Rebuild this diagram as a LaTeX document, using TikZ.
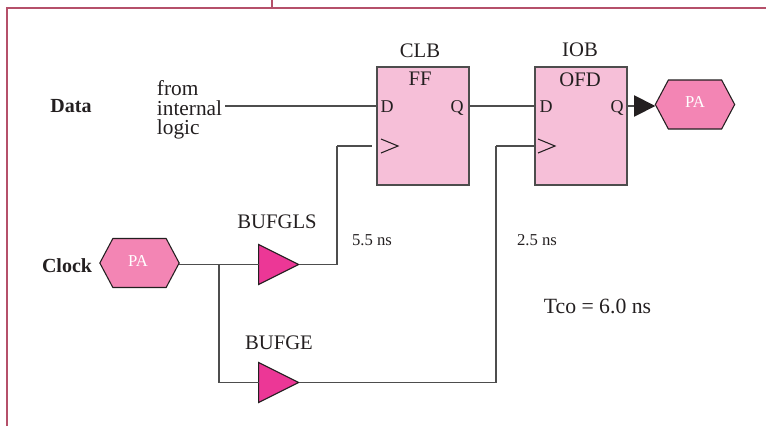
\documentclass[tikz,border=0pt]{standalone}
\usepackage{fontspec}
\setmainfont{Liberation Serif}
\usepackage{tikz}
\usetikzlibrary{arrows.meta,shapes.geometric,shapes.symbols}
\definecolor{framered}{HTML}{B5506A}
\definecolor{boxpink}{HTML}{F6BFD8}
\definecolor{padpink}{HTML}{F385B4}
\definecolor{bufpink}{HTML}{EC3796}
\definecolor{wiregray}{HTML}{4D4D4D}
\definecolor{inkblack}{HTML}{231F20}
\tikzset{
  wire/.style={draw=wiregray,line width=1pt},
  ffbox/.style={rectangle,draw=wiregray,fill=boxpink,line width=1pt,minimum width=69pt,minimum height=88.5pt,inner sep=0pt,outer sep=0pt},
  padhex/.style={signal,signal to=east and west,signal pointer angle=124,draw=inkblack,fill=padpink,line width=0.8pt,minimum width=59.5pt,minimum height=36.75pt,inner sep=0pt,outer sep=0pt},
  bufgate/.style={isosceles triangle,isosceles triangle stretches,draw=inkblack,fill=bufpink,line width=0.8pt,minimum width=30pt,minimum height=30pt,inner sep=0pt,outer sep=0pt},
  lbl/.style={inner sep=0.75pt,text=inkblack,font=\fontsize{15.5}{17}\selectfont},
  pin/.style={inner sep=0.75pt,text=inkblack,font=\fontsize{13.5}{15}\selectfont},
  small/.style={inner sep=0.75pt,text=inkblack,font=\fontsize{12.5}{14}\selectfont},
  side/.style={inner sep=0.75pt,text=inkblack,font=\bfseries\fontsize{15}{17}\selectfont},
}
\begin{document}
\begin{tikzpicture}[x=0.75pt,y=0.75pt,yscale=-1,xscale=1]
\useasboundingbox (0,0) rectangle (766,426);

%Shape: Frame
\draw [framered,line width=1pt] (7,426) -- (7,8) -- (766,8) ;
\draw [framered,line width=1pt] (272,0) -- (272,8) ;

%Points on the wires
\coordinate (clbd) at (377,106);
\coordinate (clbq) at (469,106);
\coordinate (iobd) at (535,106);
\coordinate (iobq) at (627,106);
\coordinate (clbck) at (372,146);
\coordinate (iobck) at (535,146);
\coordinate (bend1) at (337,146);
\coordinate (bend2) at (496,146);
\coordinate (branch) at (219,264.5);
\coordinate (corner) at (219,382.5);

% Text Node
\draw (189.5,110) node (logic) [lbl,font=\fontsize{16}{17}\selectfont,align=left] {from\\[-2.5pt]internal\\[-2.5pt]logic};

%Wires
\draw [wire] (225,106) -- (clbd) ;
\draw [wire] (clbq) -- (iobd) ;
\draw [wire] (bend1) -- (clbck) ;
\draw [wire] (bend2) -- (iobck) ;

%Shape: Rectangle
\draw (423,126) node (clb) [ffbox] {};
\draw (581,126) node (iob) [ffbox] {};
%Shape: Hexagon
\draw (695,104.5) node (padout) [padhex] {};
\draw (139.5,263) node (padin) [padhex] {};
%Shape: Triangle
\draw (271,264.5) node (bufgls) [bufgate] {};
\draw (271,382.5) node (bufge) [bufgate] {};

\draw [wire] (padin.east |- branch) -- (branch) -- (bufgls.west |- branch) ;
\draw [wire] (branch) -- (corner) -- (bufge.west |- corner) ;
\draw [wire] (bufgls.apex) -| (bend1) ;
\draw [wire] (bufge.apex) -| (bend2) ;
\draw [wire,-{Triangle[length=16,width=16,fill=inkblack,color=inkblack]}] (iobq) -- (padout.west |- iobq) ;

%Shape: Clock marks
\draw [inkblack,line width=0.8pt] (381,139) -- (398,146) -- (381,153) ;
\draw [inkblack,line width=0.8pt] (538,139) -- (555,146) -- (538,153) ;

% Text Node
\draw (420,51) node (clblabel) [lbl] {CLB};
% Text Node
\draw (580,50) node (ioblabel) [lbl] {IOB};
% Text Node
\draw (420,79) node (fflabel) [lbl] {FF};
% Text Node
\draw (580,80) node (ofdlabel) [lbl] {OFD};
% Text Node
\draw (387,107) node (clbdlabel) [pin] {D};
% Text Node
\draw (457,108) node (clbqlabel) [pin] {Q};
% Text Node
\draw (546,107) node (iobdlabel) [pin] {D};
% Text Node
\draw (617,108) node (iobqlabel) [pin] {Q};
% Text Node
\draw (695,102) node (padoutlabel) [small,text=white] {PA};
% Text Node
\draw (138,261) node (padinlabel) [small,text=white] {PA};
% Text Node
\draw (71,106) node (datalabel) [side] {Data};
% Text Node
\draw (67,266) node (clocklabel) [side] {Clock};
% Text Node
\draw (277,222) node (glslabel) [lbl] {BUFGLS};
% Text Node
\draw (279,343) node (gelabel) [lbl] {BUFGE};
% Text Node
\draw (372,240) node (delay1) [small] {5.5 ns};
% Text Node
\draw (537,240) node (delay2) [small] {2.5 ns};
% Text Node
\draw (597.5,306) node (tcolabel) [lbl,font=\fontsize{16.3}{18}\selectfont] {Tco = 6.0 ns};
\end{tikzpicture}
\end{document}
